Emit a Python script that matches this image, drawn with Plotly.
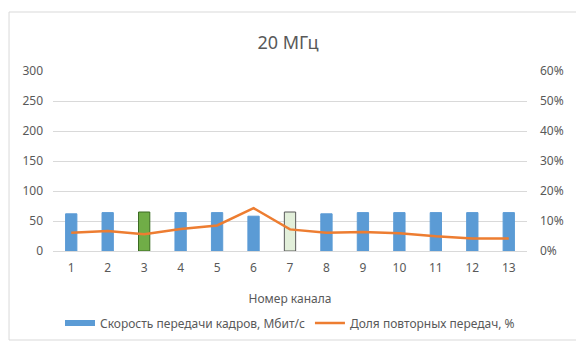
import plotly.graph_objects as go

# Channel numbers (2.4 GHz band, 20 MHz channel width)
channels = ["1", "2", "3", "4", "5", "6", "7", "8", "9", "10", "11", "12", "13"]
# Frame transfer rate, Mbit/s
throughput = [62, 64, 65, 64, 64, 58, 65, 62, 64, 64, 64, 64, 64]
# Share of retransmissions, %
retries = [6.1, 6.7, 5.6, 7.3, 8.5, 14.3, 7.2, 6.1, 6.3, 5.9, 4.9, 4.2, 4.2]

bar_name = "Скорость передачи кадров, Мбит/с"
line_name = "Доля повторных передач, %"

BLUE = "#5B9BD5"
ORANGE = "#ED7D31"
GRID = "#D9D9D9"
TEXT = "#595959"
FONT = "Noto Sans"

# Highlighted channels: 3 (green) and 7 (pale green, outlined)
fill_colors = [BLUE] * len(channels)
edge_colors = [BLUE] * len(channels)
fill_colors[2], edge_colors[2] = "#70AD47", "#3B6B22"
fill_colors[6], edge_colors[6] = "#E2EFDA", "#595959"

fig = go.Figure()

fig.add_trace(go.Bar(
    x=channels, y=throughput, name=bar_name,
    marker=dict(color=fill_colors, line=dict(color=edge_colors, width=1)),
    showlegend=False, yaxis="y",
))

# Legend entry for the bars drawn as a wide band, Excel-style
fig.add_trace(go.Scatter(
    x=[None], y=[None], mode="lines", name=bar_name,
    line=dict(color=BLUE, width=6), yaxis="y",
))

fig.add_trace(go.Scatter(
    x=channels, y=retries, name=line_name, mode="lines",
    line=dict(color=ORANGE, width=2.5), yaxis="y2",
))

fig.update_layout(
    width=576, height=356,
    margin=dict(l=53, r=38, t=71, b=105),
    paper_bgcolor="white", plot_bgcolor="white",
    font=dict(family=FONT, color=TEXT, size=12),
    bargap=0.69,
    title=dict(text="20 МГц", x=0.5, xanchor="center", y=1 - 43 / 356,
               yanchor="middle", font=dict(size=18, color=TEXT)),
    xaxis=dict(
        type="category", showgrid=False, showline=False, ticks="",
        tickfont=dict(size=12, color=TEXT), ticklabelstandoff=8,
        title=dict(text="Номер канала", font=dict(size=12, color=TEXT), standoff=19),
    ),
    yaxis=dict(
        range=[0, 300], dtick=50, showgrid=True, gridcolor=GRID, gridwidth=1,
        zeroline=True, zerolinecolor=GRID, zerolinewidth=1, showline=False,
        tickfont=dict(size=12, color=TEXT), ticks="", ticklabelstandoff=9,
    ),
    yaxis2=dict(
        range=[0, 60], dtick=10, overlaying="y", side="right", showgrid=False,
        zeroline=False, showline=False, ticksuffix="%",
        tickfont=dict(size=12, color=TEXT), ticks="", ticklabelstandoff=12,
    ),
    legend=dict(orientation="h", x=0.5, xanchor="center", y=-0.4, yanchor="middle",
                font=dict(size=12, color=TEXT), itemwidth=30, traceorder="normal"),
    shapes=[dict(type="rect", xref="paper", yref="paper",
                 x0=(8 - 53) / 485, x1=1.2, y0=(251 - 340) / 180, y1=(251 - 12) / 180,
                 line=dict(color=GRID, width=1), fillcolor="rgba(0,0,0,0)", layer="below")],
)

fig.write_html("out.html")
